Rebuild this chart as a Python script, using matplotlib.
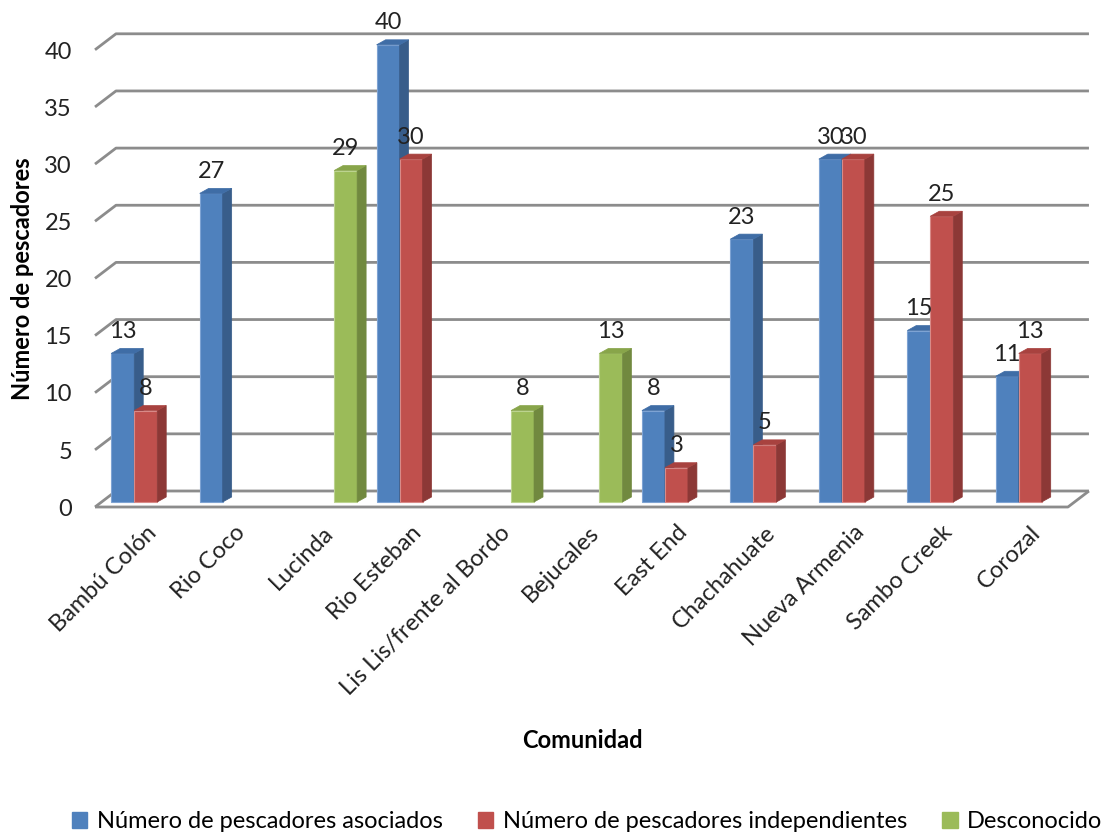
import matplotlib.pyplot as plt
from matplotlib.patches import Polygon, Patch

# Data
comunidades = ['Bambú Colón', 'Rio Coco', 'Lucinda', 'Rio Esteban',
               'Lis Lis/frente al Bordo', 'Bejucales', 'East End',
               'Chachahuate', 'Nueva Armenia', 'Sambo Creek', 'Corozal']
asociados = [13, 27, None, 40, None, None, 8, 23, 30, 15, 11]
independientes = [8, None, None, 30, None, None, 3, 5, 30, 25, 13]
desconocido = [None, None, 29, None, 8, 13, None, None, None, None, None]

series_names = ['Número de pescadores asociados',
                'Número de pescadores independientes',
                'Desconocido']
y_ticks = [0, 5, 10, 15, 20, 25, 30, 35, 40]

# Office 2007 colours: front, side, top, edge
colors = [('#4F81BD', '#385D8A', '#3F6DA6', '#7EA3D3'),
          ('#C0504D', '#8C3836', '#A8423F', '#D88A88'),
          ('#9BBB59', '#71893F', '#88A54A', '#BCD38F')]

plt.rcParams['font.family'] = ['Lato', 'DejaVu Sans']
FS = 17

fig = plt.figure(figsize=(11.14, 8.35), dpi=100)
ax = fig.add_axes([0, 0, 1, 1])
# one category = 88.45 px, one value unit = 11.43 px
ax.set_xlim(-95 / 88.45, (1114 - 95) / 88.45)
ax.set_ylim((507 - 835) / 11.43, 507 / 11.43)
ax.axis('off')

n = len(comunidades)
# depth of the floor / back wall
wdx, wdy = 21 / 88.45, 16 / 11.43
grid_kw = dict(color='#8C8C8C', lw=2, solid_capstyle='butt', zorder=1)

# gridlines on side wall + back wall
for v in y_ticks:
    ax.plot([0, wdx, n + wdx], [v, v + wdy, v + wdy], **grid_kw)
    ax.text(-0.26, v - 0.2, str(v), ha='right', va='center', fontsize=FS,
            color='#222222')
# floor outline
ax.plot([0, n, n + wdx], [0, 0, wdy], **grid_kw)

# bars
w = 0.26
bdx, bdy = 9 / 88.45, 5 / 11.43  # bar depth
fx, fy = 6.5 / 88.45, 5 / 11.43  # bar front plane offset
all_series = [asociados, independientes, desconocido]
for i in range(n):
    for k, vals in enumerate(all_series):
        v = vals[i]
        if v is None:
            continue
        front, side, top, edge = colors[k]
        x0 = i + 0.5 + (k - 1.5) * w + fx
        b = fy
        ax.add_patch(Polygon([(x0, b), (x0 + w, b), (x0 + w, b + v), (x0, b + v)],
                             closed=True, fc=front, ec=edge, lw=0.8, zorder=3))
        ax.add_patch(Polygon([(x0 + w, b), (x0 + w + bdx, b + bdy),
                              (x0 + w + bdx, b + v + bdy), (x0 + w, b + v)],
                             closed=True, fc=side, ec=side, lw=0.5, zorder=3))
        ax.add_patch(Polygon([(x0, b + v), (x0 + bdx, b + v + bdy),
                              (x0 + w + bdx, b + v + bdy), (x0 + w, b + v)],
                             closed=True, fc=top, ec=top, lw=0.5, zorder=3))
        ax.text(x0 + w / 2, b + v + 1.0, str(v), ha='center', va='bottom',
                fontsize=FS, color='#222222', zorder=4)

# category labels
for i, name in enumerate(comunidades):
    ax.text(i + 0.5 + 0.07, -1.3, name, rotation=45, rotation_mode='anchor',
            ha='right', va='top', fontsize=FS, color='#222222')

ax.text(-0.825, 20, 'Número de pescadores', rotation=90, ha='center',
        va='center', fontsize=FS, fontweight='bold')
ax.text(5.51, -20.4, 'Comunidad', ha='center', va='center', fontsize=FS,
        fontweight='bold')

handles = [Patch(fc=c[0], ec=c[0]) for c in colors]
fig.legend(handles, series_names, loc='center', bbox_to_anchor=(0.527, 1 - 822 / 835),
           ncol=3, frameon=False, fontsize=FS, handlelength=0.65, handleheight=0.65,
           handletextpad=0.4, columnspacing=1.5)

fig.savefig('out.png', dpi=100)
